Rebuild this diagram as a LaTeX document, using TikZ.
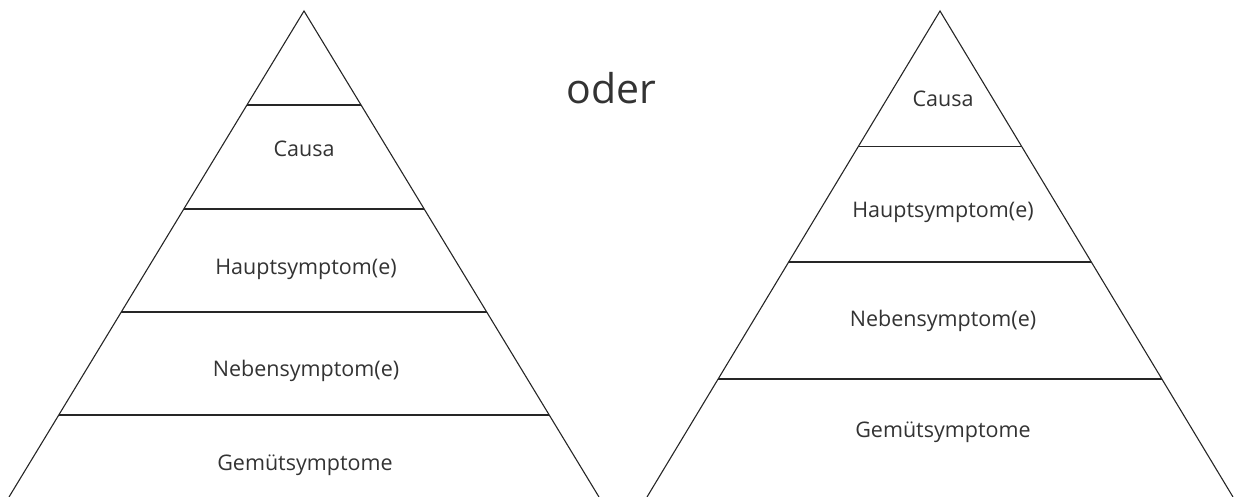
\documentclass[tikz,border=0pt]{standalone}
\usepackage{fontspec}
\setmainfont{Open Sans}
\usetikzlibrary{calc}
\definecolor{txt}{HTML}{333333}
\begin{document}
\begin{tikzpicture}[x=1pt,y=-1pt,
  edge/.style={line width=1.1pt,draw=black!85},
  lbl/.style={anchor=base,text=txt,font=\fontsize{21.5}{26}\selectfont,inner sep=0pt},
  big/.style={anchor=base,text=txt,font=\fontsize{41}{48}\selectfont,inner sep=0pt}]
\useasboundingbox (0,0) rectangle (1234,497);
% left pyramid
\coordinate (La) at (304,11);
\coordinate (Ll) at (9,497);
\coordinate (Lr) at (599,497);
\draw[edge] (Ll) -- (La) -- (Lr);
\foreach \t in {0.1934,0.4074,0.6193,0.8313}{
  \draw[edge] ($(La)!\t!(Ll)$) -- ($(La)!\t!(Lr)$);
}
\node[lbl] (l1) at (304,156.7) {Causa};
\node[lbl] (l2) at (306,274) {Hauptsymptom(e)};
\node[lbl] (l3) at (306,376.7) {Nebensymptom(e)};
\node[lbl] (l4) at (305,470.7) {Gemütsymptome};
% right pyramid
\coordinate (Ra) at (940,11);
\coordinate (Rl) at (647,497);
\coordinate (Rr) at (1233,497);
\draw[edge] (Rl) -- (Ra) -- (Rr);
\foreach \t in {0.2792,0.5165,0.7572}{
  \draw[edge] ($(Ra)!\t!(Rl)$) -- ($(Ra)!\t!(Rr)$);
}
\node[lbl] (r1) at (943,106.7) {Causa};
\node[lbl] (r2) at (943,217.7) {Hauptsymptom(e)};
\node[lbl] (r3) at (943,326.7) {Nebensymptom(e)};
\node[lbl] (r4) at (943,437.7) {Gemütsymptome};
% oder
\node[big] (oder) at (611.5,103.3) {oder};
\end{tikzpicture}
\end{document}
